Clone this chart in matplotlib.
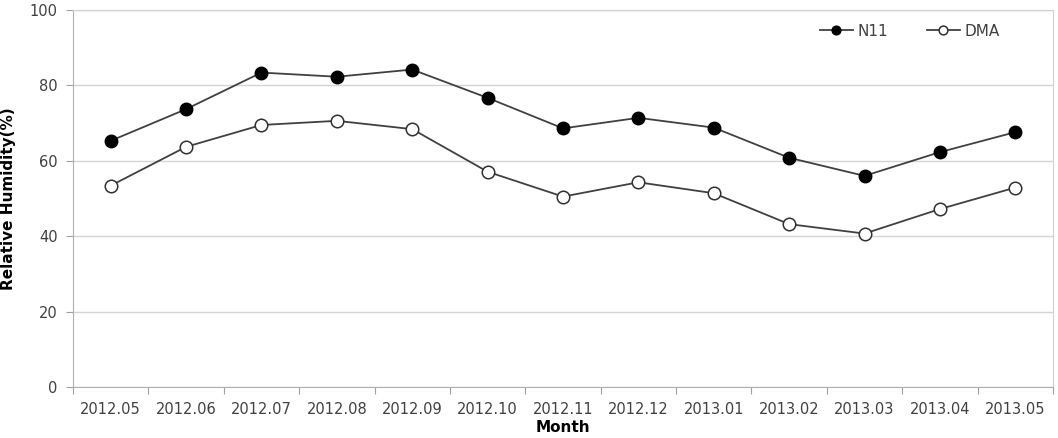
import matplotlib
matplotlib.use("Agg")
import matplotlib.pyplot as plt
from matplotlib.ticker import FixedLocator

months = ["2012.05", "2012.06", "2012.07", "2012.08", "2012.09", "2012.10", "2012.11",
          "2012.12", "2013.01", "2013.02", "2013.03", "2013.04", "2013.05"]
n11 = [65.3, 73.7, 83.4, 82.3, 84.2, 76.7, 68.6, 71.4, 68.8, 60.8, 56.0, 62.3, 67.6]
dma = [53.4, 63.7, 69.5, 70.6, 68.4, 57.1, 50.5, 54.3, 51.4, 43.2, 40.7, 47.2, 52.9]
yticks = [0, 20, 40, 60, 80, 100]

plt.rcParams['font.family'] = ['DejaVu Sans']

fig = plt.figure(figsize=(10.58, 4.38), dpi=100)
ax = fig.add_axes([73/1058, 1 - 387/438, (1053 - 73)/1058, (387 - 10)/438])

x = list(range(len(months)))
line_col = "#404040"
ax.plot(x, n11, color=line_col, lw=1.3, marker="o", ms=9, mfc="black", mec="black",
        label="N11", zorder=3)
ax.plot(x, dma, color=line_col, lw=1.3, marker="o", ms=9, mfc="white", mec="#303030",
        mew=1.1, label="DMA", zorder=3)

ax.set_xlim(-0.5, len(months) - 0.5)
ax.set_ylim(0, 100)
ax.set_yticks(yticks)
ax.set_xticks(x)
ax.set_xticklabels(months)
ax.xaxis.set_minor_locator(FixedLocator([i + 0.5 for i in range(-1, len(months))]))
ax.tick_params(axis="x", which="major", length=0, pad=11, labelsize=10.5, labelcolor="#404040")
ax.tick_params(axis="x", which="minor", length=5, color="#a0a0a0", width=0.8)
ax.tick_params(axis="y", length=5, color="#a0a0a0", width=0.8, labelsize=10.5,
               labelcolor="#404040", pad=6)

ax.yaxis.grid(True, color="#d4d4d4", lw=1.0)
ax.set_axisbelow(True)
for s in ["top", "right"]:
    ax.spines[s].set_color("#d0d0d0")
for s in ["left", "bottom"]:
    ax.spines[s].set_color("#b0b0b0")

ax.set_ylabel("Relative Humidity(%)", fontsize=11, fontweight="bold", labelpad=10)
ax.set_xlabel("Month", fontsize=11, fontweight="bold", labelpad=2)

leg = ax.legend(loc="upper right", ncol=2, frameon=False, fontsize=11,
                bbox_to_anchor=(0.96, 1.0), markerscale=0.7, handlelength=2.2,
                columnspacing=2.5, handletextpad=0.3)
for t in leg.get_texts():
    t.set_color("#404040")

fig.savefig("out.png", dpi=100)
